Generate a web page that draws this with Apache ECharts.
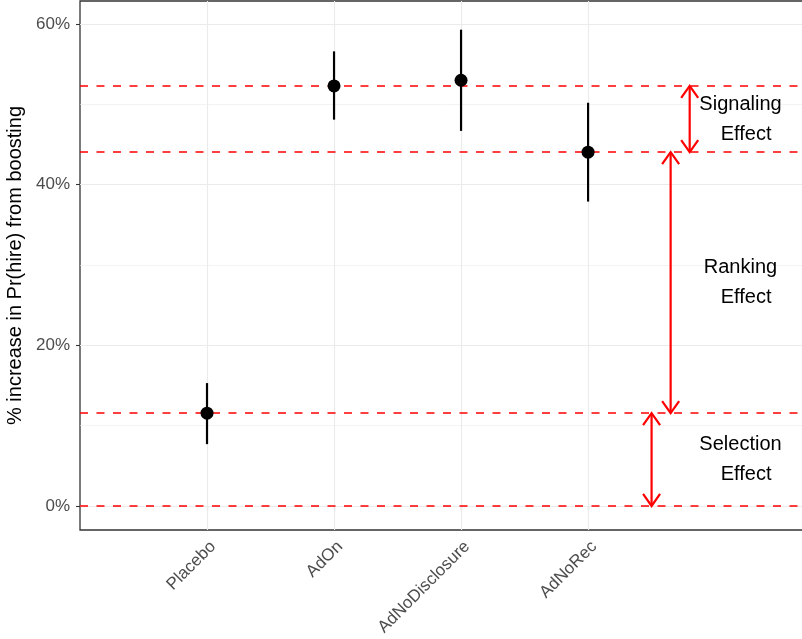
<!DOCTYPE html>
<html>
<head>
<meta charset="utf-8">
<script src="https://cdn.jsdelivr.net/npm/echarts@6/dist/echarts.min.js"></script>
<style>
  html, body { margin: 0; padding: 0; background: #fff; }
  #main { width: 802px; height: 639px; }
</style>
</head>
<body>
<div id="main"></div>
<script>
// data
var categories = ['Placebo', 'AdOn', 'AdNoDisclosure', 'AdNoRec'];
var estimates = [11.55, 52.3, 53.0, 44.05];
var lower = [7.7, 48.1, 46.7, 37.9];
var upper = [15.3, 56.6, 59.3, 50.2];
var refLines = [0, 11.55, 44.05, 52.3];
var yTicks = [0, 20, 40, 60];
var yMinor = [10, 30, 50];
var effectNames = ['Selection\n  Effect', 'Ranking\n  Effect', 'Signaling\n  Effect'];
var effectFrom = [0, 11.55, 44.05];
var effectTo = [11.55, 44.05, 52.3];
var arrowX = [4.5, 4.65, 4.8];
var labelX = 5.2;

var font = 'Liberation Sans, Arial, sans-serif';

window.onload = function () {
    var myChart = echarts.init(document.getElementById('main'));

    var catPos = categories.map(function (c, i) { return i + 1; });

    // grid lines (ggplot theme_bw style)
    var gridLines = [];
    yTicks.forEach(function (v) {
        gridLines.push({ yAxis: v, lineStyle: { color: '#EBEBEB', width: 1.1, type: 'solid' } });
    });
    yMinor.forEach(function (v) {
        gridLines.push({ yAxis: v, lineStyle: { color: '#EBEBEB', width: 0.6, type: 'solid' } });
    });
    catPos.forEach(function (v) {
        gridLines.push({ xAxis: v, lineStyle: { color: '#EBEBEB', width: 1.1, type: 'solid' } });
    });

    var barData = categories.map(function (c, i) { return [i + 1, lower[i], upper[i]]; });
    var pointData = categories.map(function (c, i) { return [i + 1, estimates[i]]; });
    var arrowData = effectNames.map(function (n, i) { return [arrowX[i], effectFrom[i], effectTo[i]]; });
    var textData = effectNames.map(function (n, i) { return [labelX, (effectFrom[i] + effectTo[i]) / 2, i]; });

    function head(tip, dir) {
        // open V arrow head, dir = +1 pointing down, -1 pointing up
        var hw = 8.5, hl = 12;
        return [[tip[0] - hw, tip[1] - dir * hl], tip, [tip[0] + hw, tip[1] - dir * hl]];
    }

    var option = {
        animation: false,
        grid: {
            left: 80, right: -2, top: 1, bottom: 109,
            outerBoundsMode: 'none', containLabel: false,
            show: true, borderColor: '#333333', borderWidth: 1.3, backgroundColor: '#fff'
        },
        xAxis: {
            type: 'value',
            min: 0, max: 5.7,
            axisLine: { show: false },
            splitLine: { show: false },
            axisTick: { show: true, length: 4, customValues: catPos, lineStyle: { color: '#333333', width: 1.1 } },
            axisLabel: {
                customValues: catPos,
                rotate: 45, margin: 8, verticalAlign: 'top',
                fontSize: 17, color: '#4D4D4D', fontFamily: font,
                formatter: function (v) { return categories[Math.round(v) - 1] || ''; }
            }
        },
        yAxis: {
            type: 'value',
            min: -2.99, max: 62.87,
            name: '% increase in Pr(hire) from boosting',
            nameLocation: 'middle', nameRotate: 90, nameGap: 40,
            nameTextStyle: { fontSize: 20, color: '#000', fontFamily: font },
            axisLine: { show: false },
            splitLine: { show: false },
            axisTick: { show: true, length: 4, customValues: yTicks, lineStyle: { color: '#333333', width: 1.1 } },
            axisLabel: {
                customValues: yTicks, margin: 10,
                fontSize: 17, color: '#4D4D4D', fontFamily: font,
                formatter: function (v) { return v + '%'; }
            }
        },
        series: [
            {
                name: 'grid', type: 'line', data: [], z: 1, silent: true,
                markLine: { z: 1, silent: true, symbol: ['none', 'none'], label: { show: false }, data: gridLines }
            },
            {
                name: 'ref', type: 'line', data: [], z: 2, silent: true,
                markLine: {
                    z: 2, silent: true, symbol: ['none', 'none'], label: { show: false },
                    lineStyle: { color: '#FF0000', width: 1.6, type: [8, 8.5] },
                    data: refLines.map(function (v) { return { yAxis: v }; })
                }
            },
            {
                name: 'effects', type: 'custom', z: 3, silent: true,
                data: arrowData,
                renderItem: function (params, api) {
                    var a = api.coord([api.value(0), api.value(1)]);
                    var b = api.coord([api.value(0), api.value(2)]);
                    var st = { stroke: '#FF0000', lineWidth: 2.2, fill: null };
                    return {
                        type: 'group',
                        children: [
                            { type: 'line', shape: { x1: a[0], y1: a[1], x2: b[0], y2: b[1] }, style: st },
                            { type: 'polyline', shape: { points: head(a, 1) }, style: st },
                            { type: 'polyline', shape: { points: head(b, -1) }, style: st }
                        ]
                    };
                }
            },
            {
                name: 'labels', type: 'custom', z: 3, silent: true,
                data: textData,
                renderItem: function (params, api) {
                    var p = api.coord([api.value(0), api.value(1)]);
                    return {
                        type: 'text', x: p[0], y: p[1],
                        style: {
                            text: effectNames[api.value(2)],
                            fontSize: 20, lineHeight: 30, fontFamily: font,
                            fill: '#000', align: 'center', verticalAlign: 'middle'
                        }
                    };
                }
            },
            {
                name: 'ci', type: 'custom', z: 4, silent: true,
                data: barData,
                renderItem: function (params, api) {
                    var a = api.coord([api.value(0), api.value(1)]);
                    var b = api.coord([api.value(0), api.value(2)]);
                    return {
                        type: 'line',
                        shape: { x1: a[0], y1: a[1], x2: b[0], y2: b[1] },
                        style: { stroke: '#000', lineWidth: 2.2 }
                    };
                }
            },
            {
                name: 'estimate', type: 'scatter', z: 5, silent: true,
                symbol: 'circle', symbolSize: 13,
                itemStyle: { color: '#000', opacity: 1 },
                data: pointData
            }
        ]
    };

    myChart.setOption(option);
};
</script>
</body>
</html>
